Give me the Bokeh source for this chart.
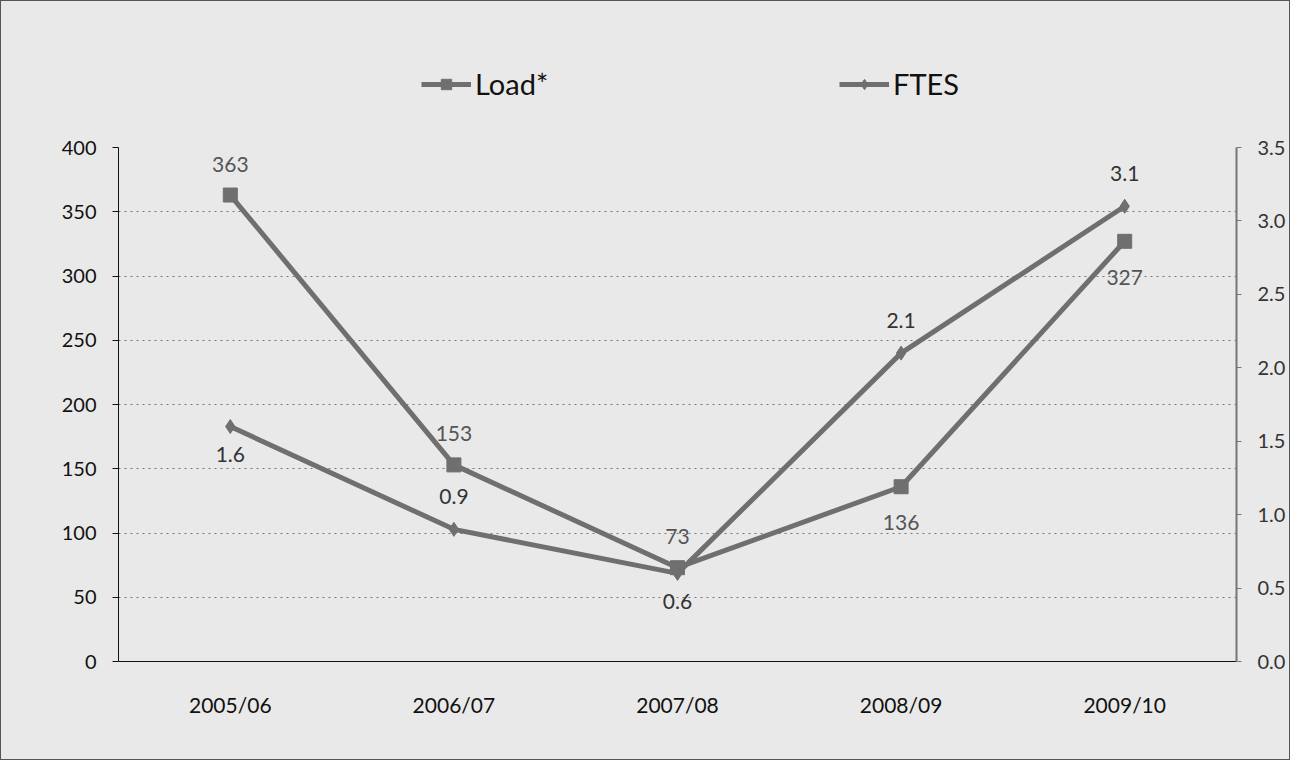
from bokeh.plotting import figure
from bokeh.layouts import column
from bokeh.models import (FactorRange, Range1d, LinearAxis, SingleIntervalTicker,
                          ColumnDataSource, Legend, LegendItem, NumeralTickFormatter)
from bokeh.core.properties import value
from bokeh.embed import file_html
from bokeh.resources import INLINE

categories = ["2005/06", "2006/07", "2007/08", "2008/09", "2009/10"]
load_values = [363, 153, 73, 136, 327]
ftes_values = [1.6, 0.9, 0.6, 2.1, 3.1]
load_label_pos = ["above", "above", "above", "below", "below"]
ftes_label_pos = ["below", "above", "below", "above", "above"]

FONT = "Lato"
BG = "#e9e9e9"
LINE = "#6f6f6f"

p = figure(x_range=FactorRange(factors=categories), y_range=Range1d(0, 400),
           width=1288, height=648, output_backend="svg", toolbar_location=None,
           min_border_left=117, min_border_right=53, min_border_top=36, min_border_bottom=98)
p.background_fill_color = BG
p.border_fill_color = BG
p.outline_line_color = None
p.extra_y_ranges = {"right": Range1d(0, 3.5)}

# left axis
ya = p.yaxis[0]
ya.ticker = SingleIntervalTicker(interval=50)
ya.axis_line_color = "#111"
ya.major_tick_line_color = "#111"
ya.major_tick_out = 6
ya.major_tick_in = 0
ya.minor_tick_line_color = None
ya.major_label_text_font = FONT
ya.major_label_text_font_size = "20px"
ya.major_label_text_color = "#111"
ya.major_label_standoff = 16

# right axis
ra = LinearAxis(y_range_name="right", ticker=SingleIntervalTicker(interval=0.5),
                formatter=NumeralTickFormatter(format="0.0"))
ra.axis_line_color = "#777"
ra.axis_line_width = 2
ra.major_tick_line_color = "#777"
ra.major_tick_out = 5
ra.major_tick_in = 0
ra.minor_tick_line_color = None
ra.major_label_text_font = FONT
ra.major_label_text_font_size = "20px"
ra.major_label_text_color = "#333"
ra.major_label_standoff = 16
p.add_layout(ra, "right")

# x axis
xa = p.xaxis[0]
xa.axis_line_color = "#111"
xa.major_tick_line_color = None
xa.major_label_text_font = FONT
xa.major_label_text_font_size = "21px"
xa.major_label_text_color = "#111"
xa.major_label_standoff = 24

p.xgrid.grid_line_color = None
p.ygrid.grid_line_color = "#777"
p.ygrid.grid_line_dash = "2 4"
p.ygrid.grid_line_width = 1
p.ygrid.ticker = SingleIntervalTicker(interval=50)

src_load = ColumnDataSource(dict(
    x=categories, y=load_values,
    lab=[str(v) for v in load_values],
    off=[-31 if s == "above" else 36 for s in load_label_pos]))
src_ftes = ColumnDataSource(dict(
    x=categories, y=ftes_values,
    lab=["%.1f" % v for v in ftes_values],
    off=[-33 if s == "above" else 28 for s in ftes_label_pos]))

p.line("x", "y", source=src_load, line_color=LINE, line_width=5)
p.scatter("x", "y", source=src_load, marker="square", size=14,
          fill_color=LINE, line_color=LINE)
p.line("x", "y", source=src_ftes, y_range_name="right", line_color=LINE, line_width=5)
p.scatter("x", "y", source=src_ftes, y_range_name="right", marker="diamond", size=14,
          fill_color=LINE, line_color=LINE)

p.text("x", "y", text="lab", source=src_load, y_offset="off",
       text_font=value(FONT), text_font_size="21px", text_color="#555",
       text_align="center", text_baseline="middle")
p.text("x", "y", text="lab", source=src_ftes, y_offset="off", y_range_name="right",
       text_font=value(FONT), text_font_size="21px", text_color="#333",
       text_align="center", text_baseline="middle")

# header strip holding the legend (legend proxies carry a single NaN point: nothing drawn)
nan = float("nan")
h = figure(width=1288, height=110, output_backend="svg", toolbar_location=None,
           x_range=Range1d(0, 1), y_range=Range1d(0, 1),
           x_axis_location=None, y_axis_location=None,
           min_border_left=0, min_border_right=0, min_border_top=0, min_border_bottom=0)
h.background_fill_color = BG
h.border_fill_color = BG
h.outline_line_color = None
h.grid.visible = False
hl1 = h.line(x=[nan], y=[nan], line_color=LINE, line_width=5)
hm1 = h.scatter(x=[nan], y=[nan], marker="square", size=12, fill_color=LINE, line_color=LINE)
hl2 = h.line(x=[nan], y=[nan], line_color=LINE, line_width=5)
hm2 = h.scatter(x=[nan], y=[nan], marker="diamond", size=12, fill_color=LINE, line_color=LINE)

legend = Legend(items=[LegendItem(label="Load*", renderers=[hl1, hm1]),
                       LegendItem(label="FTES", renderers=[hl2, hm2])],
                orientation="horizontal", location=(303, 10),
                padding=5, border_line_color=None, background_fill_alpha=0,
                label_text_font=FONT, label_text_font_size="29px", label_text_color="#111",
                glyph_width=50, glyph_height=26, spacing=10, label_width=354,
                label_standoff=4)
h.add_layout(legend, "center")

layout = column(h, p, spacing=0, styles={"border": "1px solid #555", "background": BG})

open("out.html", "w").write(file_html(layout, INLINE))
